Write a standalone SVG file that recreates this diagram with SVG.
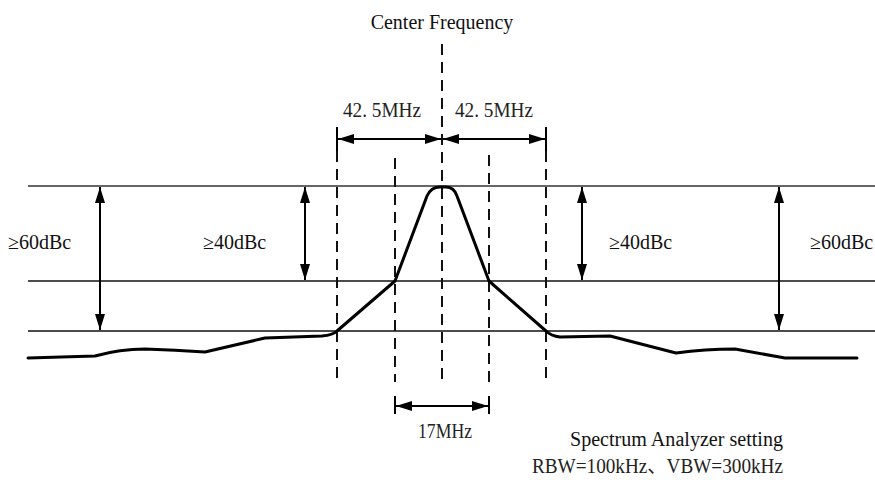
<svg xmlns="http://www.w3.org/2000/svg" width="875" height="480" viewBox="0 0 875 480">
  <defs>
    <marker id="ah" viewBox="0 0 16 10" refX="16" refY="5" markerWidth="16" markerHeight="10" markerUnits="userSpaceOnUse" orient="auto-start-reverse">
      <path d="M0,0 L16,5 L0,10 Z" fill="#000"/>
    </marker>
    <style>
      .lvl { stroke: #111; stroke-width: 1.6; fill: none; }
      .ref { stroke: #666; stroke-width: 2.2; fill: none; }
      .dash { stroke: #111; stroke-width: 2; stroke-dasharray: 11 7; fill: none; }
      .dim { stroke: #000; stroke-width: 2; fill: none; marker-start: url(#ah); marker-end: url(#ah); }
      .tick { stroke: #000; stroke-width: 2; }
      .trace { stroke: #000; stroke-width: 3; fill: none; stroke-linejoin: round; stroke-linecap: round; }
      .serif { font-family: "Liberation Serif", "Times New Roman", serif; font-size: 20px; fill: #111; }
      .cjk { font-family: "Liberation Serif", "Noto Sans CJK SC", serif; font-size: 20px; fill: #222; }
    </style>
  </defs>

  <!-- level lines -->
  <g id="levels">
    <line class="ref" x1="28" y1="186" x2="875" y2="186"/>
    <line class="lvl" x1="28" y1="281" x2="875" y2="281"/>
    <line class="lvl" x1="28" y1="331" x2="875" y2="331"/>
  </g>

  <!-- frequency markers -->
  <g id="markers">
    <line class="dash" x1="442" y1="44" x2="442" y2="382"/>
    <line class="dash" x1="337" y1="151" x2="337" y2="382"/>
    <line class="dash" x1="546" y1="151" x2="546" y2="382"/>
    <line class="dash" x1="395" y1="158" x2="395" y2="382"/>
    <line class="dash" x1="489" y1="155" x2="489" y2="382"/>
  </g>

  <!-- spectrum trace -->
  <g id="trace">
    <path class="trace" d="M28,358 L95,356 Q120,349 145,349 Q175,350 205,352 L265,338 L322,336 Q333,335 337,331 L395,281 L427,196 Q431,187 440,187 L446,187 Q454,187 457,196 L489,281 L546,331 Q551,336 560,337 L610,336 L676,353 Q705,349 735,349 L785,358 L857,358"/>
  </g>

  <!-- dimension connectors -->
  <g id="connectors">
    <line class="tick" x1="337" y1="127" x2="337" y2="151"/>
    <line class="tick" x1="546" y1="127" x2="546" y2="151"/>
    <line class="dim" x1="338" y1="139" x2="441" y2="139"/>
    <line class="dim" x1="443" y1="139" x2="545" y2="139"/>
    <line class="tick" x1="395" y1="396" x2="395" y2="414"/>
    <line class="tick" x1="489" y1="396" x2="489" y2="414"/>
    <line class="dim" x1="396" y1="406" x2="488" y2="406"/>
    <line class="dim" x1="100" y1="187" x2="100" y2="330"/>
    <line class="dim" x1="305" y1="187" x2="305" y2="280"/>
    <line class="dim" x1="582" y1="187" x2="582" y2="280"/>
    <line class="dim" x1="779" y1="187" x2="779" y2="330"/>
  </g>

  <!-- labels -->
  <g id="label-center"><text class="serif" x="442" y="29" text-anchor="middle">Center Frequency</text></g>
  <g id="label-left-span"><text class="cjk" x="343" y="117" textLength="78" lengthAdjust="spacingAndGlyphs">42. 5MHz</text></g>
  <g id="label-right-span"><text class="cjk" x="455" y="117" textLength="78" lengthAdjust="spacingAndGlyphs">42. 5MHz</text></g>
  <g id="label-17"><text class="cjk" x="418" y="438" textLength="54" lengthAdjust="spacingAndGlyphs">17MHz</text></g>
  <g id="label-l60"><text class="serif" x="8" y="249">≥60dBc</text></g>
  <g id="label-l40"><text class="serif" x="203" y="249">≥40dBc</text></g>
  <g id="label-r40"><text class="serif" x="609" y="249">≥40dBc</text></g>
  <g id="label-r60"><text class="serif" x="810" y="249">≥60dBc</text></g>
  <g id="label-setting">
    <text class="serif" x="570" y="446" textLength="213" lengthAdjust="spacingAndGlyphs">Spectrum Analyzer setting</text>
    <text class="cjk" x="532" y="473" textLength="251" lengthAdjust="spacingAndGlyphs">RBW=100kHz、VBW=300kHz</text>
  </g>
</svg>
